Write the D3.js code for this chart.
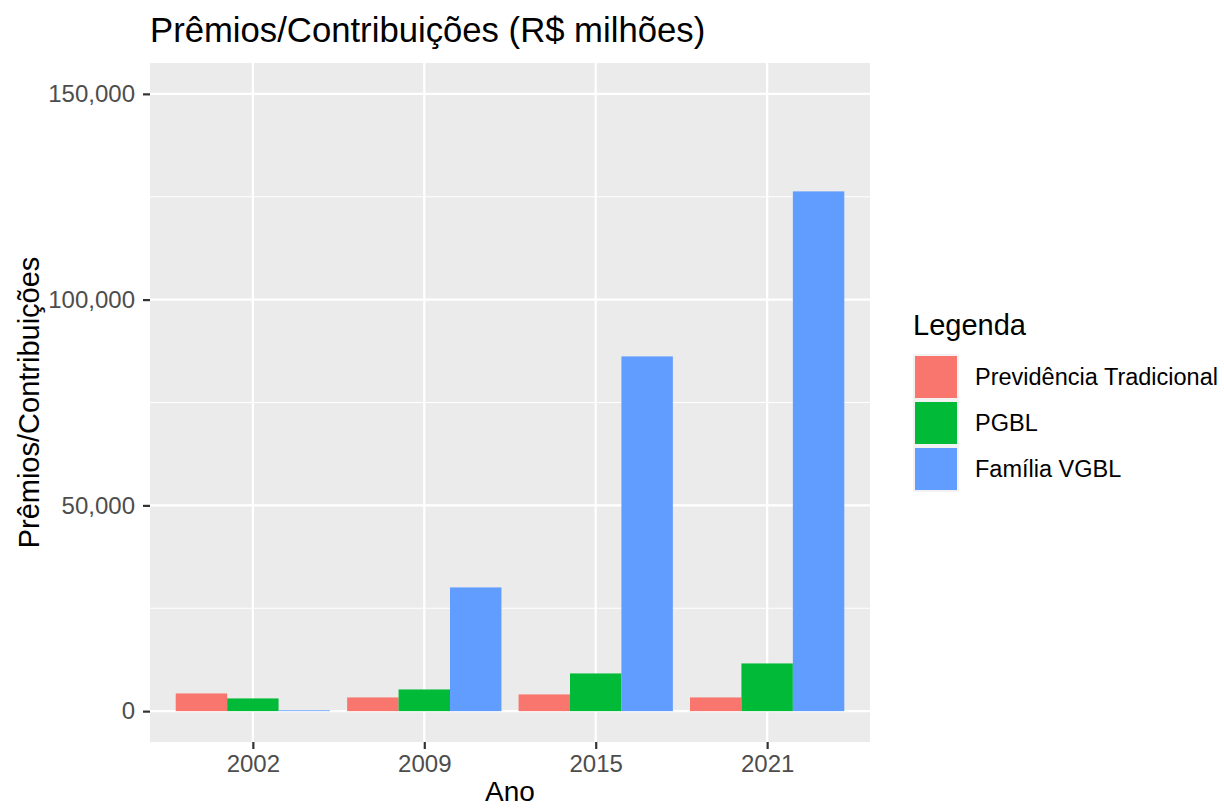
<!DOCTYPE html>
<html lang="pt">
<head>
    <meta charset="UTF-8">
    <title>Prêmios/Contribuições</title>
    <script src="https://d3js.org/d3.v7.min.js"></script>
    <style>
        body {
            margin: 0;
            padding: 0;
            background-color: #fff;
            font-family: 'Liberation Sans', Arial, sans-serif;
        }
        svg { display: block; }
    </style>
</head>
<body>
    <script>
        const anos = ["2002", "2009", "2015", "2021"];
        const series = ["Previdência Tradicional", "PGBL", "Família VGBL"];
        const cores = ["#F8766D", "#00BA38", "#619CFF"];
        const previdencia = [4300, 3330, 4060, 3330];
        const pgbl = [3090, 5270, 9160, 11590];
        const vgbl = [200, 30060, 86200, 126300];
        const yTicks = [0, 50000, 100000, 150000];
        const yMinor = [25000, 75000, 125000];

        const valores = [previdencia, pgbl, vgbl];
        const data = [];
        anos.forEach((ano, i) => {
            series.forEach((s, j) => data.push({ ano, serie: s, valor: valores[j][i] }));
        });

        const width = 1224, height = 808;
        const panel = { left: 150, right: 870, top: 63, bottom: 742 };

        const svg = d3.select("body").append("svg")
            .attr("width", width)
            .attr("height", height);

        // ggplot style discrete scale: 0.6 expansion on each side
        const step = (panel.right - panel.left) / (anos.length - 1 + 1.2);
        const x = d3.scalePoint()
            .domain(anos)
            .range([panel.left + 0.6 * step, panel.right - 0.6 * step]);

        const y = d3.scaleLinear()
            .domain([-7500, 157500])
            .range([panel.bottom, panel.top]);

        const dodge = d3.scaleBand()
            .domain(series)
            .range([-0.45 * step, 0.45 * step]);

        const cor = d3.scaleOrdinal().domain(series).range(cores);

        // panel background
        svg.append("rect")
            .attr("x", panel.left)
            .attr("y", panel.top)
            .attr("width", panel.right - panel.left)
            .attr("height", panel.bottom - panel.top)
            .attr("fill", "#EBEBEB");

        // grid
        svg.selectAll(".minor")
            .data(yMinor)
            .enter().append("line")
            .attr("x1", panel.left).attr("x2", panel.right)
            .attr("y1", d => y(d)).attr("y2", d => y(d))
            .attr("stroke", "#fff").attr("stroke-width", 1.1);

        svg.selectAll(".major-y")
            .data(yTicks)
            .enter().append("line")
            .attr("x1", panel.left).attr("x2", panel.right)
            .attr("y1", d => y(d)).attr("y2", d => y(d))
            .attr("stroke", "#fff").attr("stroke-width", 2.2);

        svg.selectAll(".major-x")
            .data(anos)
            .enter().append("line")
            .attr("x1", d => x(d)).attr("x2", d => x(d))
            .attr("y1", panel.top).attr("y2", panel.bottom)
            .attr("stroke", "#fff").attr("stroke-width", 2.2);

        // bars
        svg.selectAll(".bar")
            .data(data)
            .enter().append("rect")
            .attr("x", d => x(d.ano) + dodge(d.serie))
            .attr("width", dodge.bandwidth())
            .attr("y", d => y(d.valor))
            .attr("height", d => y(0) - y(d.valor))
            .attr("fill", d => cor(d.serie));

        // axes
        const yAxis = svg.append("g")
            .attr("transform", `translate(${panel.left},0)`)
            .call(d3.axisLeft(y).tickValues(yTicks).tickFormat(d3.format(",")).tickSize(7).tickPadding(8));
        const xAxis = svg.append("g")
            .attr("transform", `translate(0,${panel.bottom})`)
            .call(d3.axisBottom(x).tickSize(7).tickPadding(6));

        [xAxis, yAxis].forEach(g => {
            g.select(".domain").remove();
            g.selectAll(".tick line").attr("stroke", "#333").attr("stroke-width", 2.2);
            g.selectAll(".tick text")
                .attr("fill", "#4D4D4D")
                .style("font-size", "24px")
                .style("font-family", "'Liberation Sans', Arial, sans-serif");
        });

        // titles
        svg.append("text")
            .attr("x", panel.left)
            .attr("y", 42)
            .style("font-size", "34.7px")
            .attr("fill", "#000")
            .text("Prêmios/Contribuições (R$ milhões)");

        svg.append("text")
            .attr("x", (panel.left + panel.right) / 2)
            .attr("y", 801)
            .attr("text-anchor", "middle")
            .style("font-size", "28px")
            .text("Ano");

        svg.append("text")
            .attr("transform", `translate(39,${(panel.top + panel.bottom) / 2}) rotate(-90)`)
            .attr("text-anchor", "middle")
            .style("font-size", "29px")
            .text("Prêmios/Contribuições");

        // legend
        const legend = svg.append("g").attr("transform", "translate(913,0)");
        legend.append("text")
            .attr("x", 0)
            .attr("y", 335)
            .style("font-size", "29px")
            .text("Legenda");

        const items = legend.selectAll(".item")
            .data(series)
            .enter().append("g")
            .attr("transform", (d, i) => `translate(0,${354 + i * 46})`);
        items.append("rect")
            .attr("width", 46).attr("height", 46)
            .attr("fill", "#F2F2F2");
        items.append("rect")
            .attr("x", 2).attr("y", 2)
            .attr("width", 42).attr("height", 42)
            .attr("fill", d => cor(d));
        items.append("text")
            .attr("x", 62)
            .attr("y", 23)
            .attr("dy", "0.35em")
            .style("font-size", "23.5px")
            .text(d => d);
    </script>
</body>
</html>
